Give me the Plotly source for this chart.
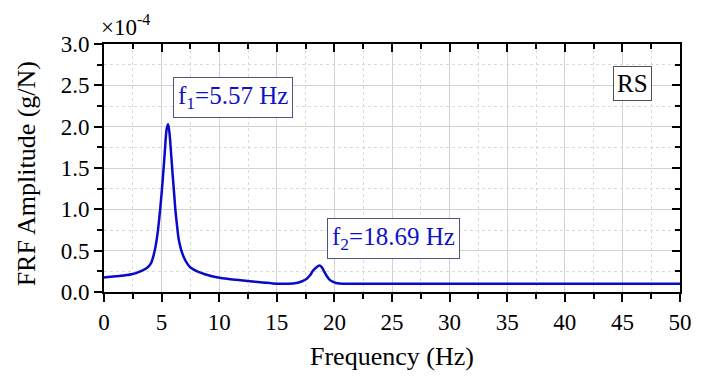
import plotly.graph_objects as go

# FRF amplitude (units of 1e-4 g/N) sampled across frequency (Hz)
freq_hz = [0.0, 1.0, 2.4, 3.36, 3.8, 4.07, 4.3, 4.5, 4.65, 4.78, 5.0, 5.23, 5.45, 5.57,
           5.7, 5.8, 5.97, 6.05, 6.2, 6.35, 6.48, 6.7, 6.9, 7.2, 7.48, 8.19, 8.76, 9.9,
           11.0, 12.46, 13.8, 15.0, 16.0, 16.7, 17.2, 17.6, 17.9, 18.15, 18.45, 18.69,
           18.9, 19.14, 19.35, 19.57, 19.85, 20.14, 21.0, 25.0, 30.0, 35.0, 40.0, 45.0, 50.0]
amplitude = [0.175, 0.19, 0.215, 0.263, 0.30, 0.345, 0.44, 0.57, 0.71, 0.87, 1.19, 1.6, 1.98, 2.03,
             1.9, 1.72, 1.40, 1.26, 0.99, 0.79, 0.64, 0.51, 0.43, 0.35, 0.30, 0.243, 0.215, 0.175,
             0.155, 0.134, 0.115, 0.10, 0.10, 0.11, 0.13, 0.16, 0.205, 0.26, 0.30, 0.32,
             0.30, 0.24, 0.19, 0.15, 0.125, 0.11, 0.10, 0.10, 0.10, 0.10, 0.10, 0.10, 0.10]

peak_labels = ["f<sub>1</sub>=5.57 Hz", "f<sub>2</sub>=18.69 Hz"]
peak_label_pos = [(11.2, 2.35), (25.1, 0.65)]

serif = "Liberation Serif, Times New Roman, serif"
blue = "#1010c8"

fig = go.Figure()
fig.add_trace(go.Scatter(x=freq_hz, y=amplitude, mode="lines",
                         line=dict(color="#0a0ac8", width=2.5, shape="spline", smoothing=0.8),
                         showlegend=False, hoverinfo="skip"))
# invisible trace to bind the mirrored (top/right) axes
fig.add_trace(go.Scatter(x=[0, 50], y=[0, 3], xaxis="x2", yaxis="y2", mode="markers",
                         marker=dict(opacity=0), showlegend=False, hoverinfo="skip"))

grid_major = "#d2d2d2"
grid_minor = "#dadada"
tick_font = dict(size=23, family=serif, color="black")

fig.update_layout(
    width=704, height=376,
    margin=dict(l=104, r=14, t=44, b=84),
    paper_bgcolor="white", plot_bgcolor="white",
    font=dict(family=serif, size=23, color="black"),
    xaxis=dict(range=[0, 50], dtick=5, tick0=0, showline=True, linecolor="black", linewidth=2,
               ticks="outside", ticklen=8, tickwidth=1.5, tickcolor="black",
               showgrid=True, gridcolor=grid_major, gridwidth=1, zeroline=False,
               minor=dict(dtick=2.5, ticks="outside", ticklen=5, tickwidth=1.5, tickcolor="black",
                          showgrid=True, gridcolor=grid_minor, griddash="dot", gridwidth=1),
               tickfont=tick_font),
    yaxis=dict(range=[0, 3], dtick=0.5, tick0=0, tickformat=".1f", showline=True, linecolor="black",
               linewidth=2, ticks="outside", ticklen=8, tickwidth=1.5, tickcolor="black",
               showgrid=True, gridcolor=grid_major, gridwidth=1, zeroline=False,
               minor=dict(dtick=0.25, ticks="outside", ticklen=5, tickwidth=1.5, tickcolor="black",
                          showgrid=True, gridcolor=grid_minor, griddash="dot", gridwidth=1),
               tickfont=tick_font),
    xaxis2=dict(range=[0, 50], overlaying="x", side="top", anchor="y", dtick=5, tick0=0,
                showline=True, linecolor="black", linewidth=2, ticks="inside", ticklen=8,
                tickwidth=1.5, tickcolor="black", showticklabels=False, showgrid=False,
                zeroline=False,
                minor=dict(dtick=2.5, ticks="inside", ticklen=5, tickwidth=1.5, tickcolor="black")),
    yaxis2=dict(range=[0, 3], overlaying="y", side="right", anchor="x", dtick=0.5, tick0=0,
                showline=True, linecolor="black", linewidth=2, ticks="inside", ticklen=8,
                tickwidth=1.5, tickcolor="black", showticklabels=False, showgrid=False,
                zeroline=False,
                minor=dict(dtick=0.25, ticks="inside", ticklen=5, tickwidth=1.5, tickcolor="black")),
)

annotations = [
    dict(text="×10<sup>-4</sup>", xref="paper", yref="paper", x=-0.008, y=1.0, yshift=2,
         xanchor="left", yanchor="bottom", showarrow=False, font=dict(size=23, family=serif)),
    dict(text="Frequency (Hz)", xref="paper", yref="paper", x=0.5, y=-0.262,
         xanchor="center", yanchor="middle", showarrow=False, font=dict(size=26, family=serif)),
    dict(text="FRF Amplitude (g/N)", xref="paper", yref="paper", x=-0.133, y=0.476, textangle=-90,
         xanchor="center", yanchor="middle", showarrow=False, font=dict(size=26, family=serif)),
    dict(text="RS", xref="x", yref="y", x=45.9, y=2.52, showarrow=False,
         font=dict(size=25, family=serif, color="black"),
         bordercolor="#505050", borderwidth=1, borderpad=3, bgcolor="white"),
]
for label, (lx, ly) in zip(peak_labels, peak_label_pos):
    annotations.append(dict(text=label, xref="x", yref="y", x=lx, y=ly, showarrow=False,
                            font=dict(size=25, family=serif, color=blue),
                            bordercolor="#4a5580", borderwidth=1, borderpad=4, bgcolor="white"))
fig.update_layout(annotations=annotations)

fig.write_html("out.html")
